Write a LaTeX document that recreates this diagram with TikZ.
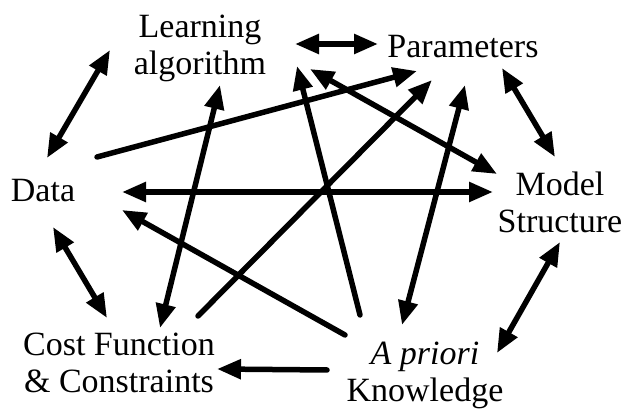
\documentclass[tikz,border=0pt]{standalone}
\usepackage{fontspec}
\setmainfont{Liberation Serif}
\usetikzlibrary{arrows.meta}
\begin{document}
\begin{tikzpicture}[x=1pt,y=-1pt,
  lbl/.style={font=\fontsize{34}{37}\selectfont, align=center, inner sep=0pt},
  tip/.tip={Triangle[length=24pt,width=19pt]},
  conn/.style={line width=5.5pt, line cap=round, -tip},
  bi/.style={line width=5.5pt, line cap=round, tip-tip}]
\useasboundingbox[fill=white] (0,0) rectangle (625,411);
% labels (base anchor = baseline of the last line)
\node[lbl, anchor=base] (learn) at (200,75) {Learning\\algorithm};
\node[lbl, anchor=base] (param) at (463,58) {Parameters};
\node[lbl, anchor=base] (data) at (43,202) {Data};
\node[lbl, anchor=base] (model) at (560,233) {Model\\Structure};
\node[lbl, anchor=base] (cost) at (119,393) {Cost Function\\\& Constraints};
\node[lbl, anchor=base] (apri) at (425,402) {\textit{A priori}\\Knowledge};
% end points
\coordinate (LP1) at (295,44);  \coordinate (LP2) at (378,44);
\coordinate (LD1) at (110,50);  \coordinate (LD2) at (47,158);
\coordinate (PM1) at (502,68);  \coordinate (PM2) at (555,157);
\coordinate (DC1) at (53,227);  \coordinate (DC2) at (107,318);
\coordinate (MA1) at (560,242); \coordinate (MA2) at (497,353);
\coordinate (DP1) at (97,157);  \coordinate (DP2) at (417,71);
\coordinate (DM1) at (122,192); \coordinate (DM2) at (493,192);
\coordinate (AD1) at (345,335); \coordinate (AD2) at (122,210);
\coordinate (AC1) at (327,370); \coordinate (AC2) at (217,369);
\coordinate (CL1) at (160,328); \coordinate (CL2) at (220,85);
\coordinate (CP1) at (198,316); \coordinate (CP2) at (432,80);
\coordinate (AL1) at (360,315); \coordinate (AL2) at (297,66);
\coordinate (LM1) at (310,69);  \coordinate (LM2) at (497,174);
\coordinate (AP1) at (402,325); \coordinate (AP2) at (465,85);
% connectors
\draw[bi] (LP1) -- (LP2);
\draw[bi] (LD1) -- (LD2);
\draw[bi] (PM1) -- (PM2);
\draw[bi] (DC1) -- (DC2);
\draw[bi] (MA1) -- (MA2);
\draw[conn] (DP1) -- (DP2);
\draw[bi] (DM1) -- (DM2);
\draw[conn] (AD1) -- (AD2);
\draw[conn] (AC1) -- (AC2);
\draw[bi] (CL1) -- (CL2);
\draw[conn] (CP1) -- (CP2);
\draw[conn] (AL1) -- (AL2);
\draw[bi] (LM1) -- (LM2);
\draw[bi] (AP1) -- (AP2);
\end{tikzpicture}
\end{document}
